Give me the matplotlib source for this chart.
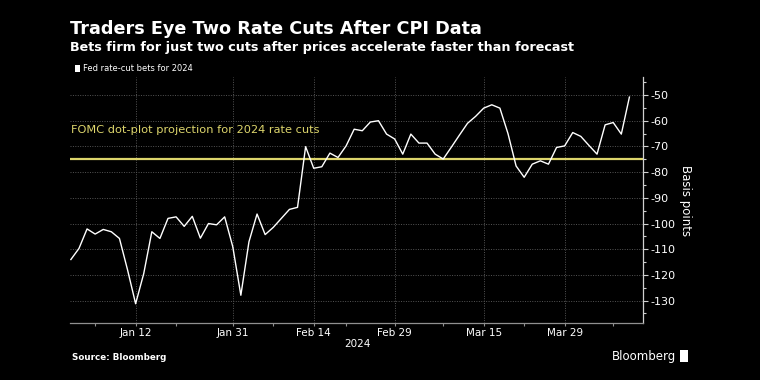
import numpy as np
import matplotlib
matplotlib.use("Agg")
import matplotlib.pyplot as plt
from matplotlib.patches import Rectangle

# Fed rate-cut bets for 2024 (basis points), one value per trading day Jan 2 - Apr 10
bets = [-114.0, -109.7, -102.1, -104.1, -102.3, -103.2, -105.8, -118.0, -131.2, -119.5,
        -103.2, -105.8, -98.0, -97.4, -101.1, -97.2, -105.7, -100.0, -100.5, -97.4,
        -109.0, -127.9, -107.1, -96.3, -104.3, -101.5, -98.0, -94.5, -93.7, -70.1,
        -78.5, -77.9, -72.6, -74.3, -69.8, -63.3, -63.9, -60.5, -60.0, -65.2,
        -67.1, -73.0, -65.2, -68.7, -68.7, -73.0, -74.9, -70.3, -65.6, -61.0,
        -58.3, -55.1, -53.8, -55.1, -65.0, -77.6, -82.0, -76.9, -75.6, -76.9,
        -70.4, -69.8, -64.6, -66.1, -69.6, -73.0, -61.6, -60.7, -65.2, -50.8]
fomc_projection = -75

tick_pos = [8, 20, 30, 40, 51, 61]
tick_labels = ["Jan 12", "Jan 31", "Feb 14", "Feb 29", "Mar 15", "Mar 29"]
minor_pos = [3, 13, 25, 34, 46, 56, 67]
y_ticks = [-130, -120, -110, -100, -90, -80, -70, -60, -50]

bg = "black"
yellow = "#ddd56c"
grid_c = "#555555"

fig = plt.figure(figsize=(7.6, 3.8), dpi=100, facecolor=bg)
ax = fig.add_axes([0.0925, 0.15, 0.7542, 0.6466], facecolor=bg)

x = np.arange(len(bets))
ax.axhline(fomc_projection, color=yellow, lw=1.6, zorder=2)
ax.plot(x, bets, color="white", lw=1.0, zorder=3)

ax.set_xlim(-0.07, 70.74)
ax.set_ylim(-138.7, -43.1)

ax.set_xticks(tick_pos)
ax.set_xticklabels(tick_labels)
ax.set_xticks(minor_pos, minor=True)
ax.set_yticks(y_ticks)
ax.set_yticklabels([str(v) for v in y_ticks])
ax.set_yticks(np.arange(-135, -44, 5), minor=True)

ax.yaxis.tick_right()
ax.yaxis.set_label_position("right")
ax.set_ylabel("Basis points", color="white", fontsize=8.5, rotation=270, labelpad=12)

for s in ["top", "left"]:
    ax.spines[s].set_visible(False)
ax.spines["right"].set_color("#d0d0d0")
ax.spines["bottom"].set_color("#909090")
ax.spines["right"].set_linewidth(0.9)
ax.spines["bottom"].set_linewidth(0.9)

ax.tick_params(axis="x", which="major", colors="#909090", length=2.5, width=0.8,
               labelcolor="white", labelsize=7.5, pad=0.8)
ax.tick_params(axis="x", which="minor", colors="#909090", length=2.5, width=0.8)
ax.tick_params(axis="y", which="major", colors="#d0d0d0", length=3.5, width=0.8,
               labelcolor="white", labelsize=8, pad=1.5)
ax.tick_params(axis="y", which="minor", colors="#d0d0d0", length=2, width=0.8)

ax.grid(True, which="major", color=grid_c, lw=0.7, ls=(0, (1, 1.5)))
ax.set_axisbelow(True)

ax.text(0.05, -63.5, "FOMC dot-plot projection for 2024 rate cuts", color=yellow,
        fontsize=8.2, va="center", ha="left")

fig.text(0.47, 0.095, "2024", color="white", fontsize=7.5, ha="center", va="center")

fig.text(0.092, 0.9105, "Traders Eye Two Rate Cuts After CPI Data", color="white",
         fontsize=12.7, fontweight="bold", va="baseline")
fig.text(0.092, 0.866, "Bets firm for just two cuts after prices accelerate faster than forecast",
         color="white", fontsize=9.2, fontweight="bold", va="baseline")
fig.patches.append(Rectangle((0.0985, 0.811), 0.0068, 0.0175, transform=fig.transFigure,
                             facecolor="white", edgecolor="none"))
fig.text(0.109, 0.82, "Fed rate-cut bets for 2024", color="white", fontsize=6,
         va="center")

fig.text(0.095, 0.06, "Source: Bloomberg", color="white", fontsize=6.3,
         fontweight="bold", va="center")
fig.text(0.805, 0.062, "Bloomberg", color="white", fontsize=8.5, va="center")
fig.patches.append(Rectangle((0.895, 0.048), 0.010, 0.03, transform=fig.transFigure,
                             facecolor="white", edgecolor="none"))

fig.savefig("out.png", dpi=100, facecolor=bg)
